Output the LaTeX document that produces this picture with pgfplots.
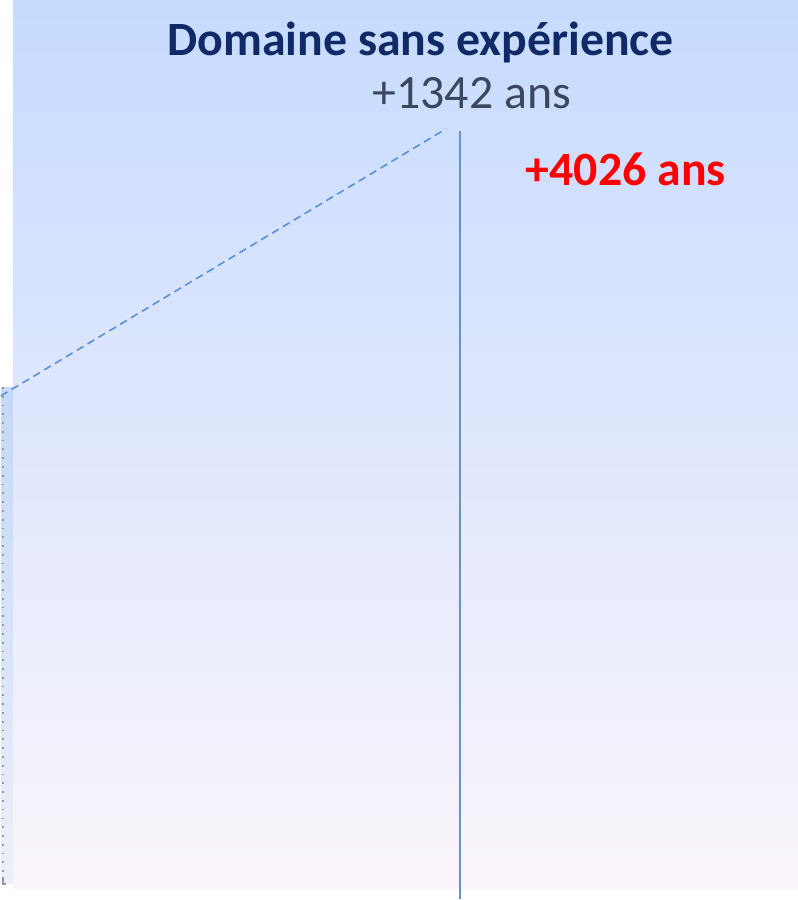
\documentclass[border=0pt]{standalone}
\usepackage{pgfplots}
\pgfplotsset{compat=1.18}
\usepackage{fontspec}
\setmainfont{Carlito}
\definecolor{bgtop}{HTML}{C6DBFF}
\definecolor{bgmid}{HTML}{DFEAFB}
\definecolor{bgbot}{HTML}{FBF5FB}
\definecolor{striptop}{HTML}{C4D8F8}
\definecolor{stripbot}{HTML}{EEF0F8}
\definecolor{navy}{HTML}{0F2A66}
\definecolor{grayt}{HTML}{3A475E}
\definecolor{dashc}{HTML}{5B8FD6}
\definecolor{vline}{HTML}{6A92C8}
\begin{document}
\begin{tikzpicture}
\begin{axis}[
  scale only axis, width=7.97cm, height=9cm,
  xmin=0, xmax=797, ymin=0, ymax=900,
  axis lines=none, clip=false,
]
% background
\addplot[draw=none, top color=bgtop, middle color=bgmid, bottom color=bgbot] coordinates {(12,10) (797,10) (797,899) (12,899)} \closedcycle;
\addplot[draw=none, top color=striptop, bottom color=stripbot] coordinates {(0,15) (12,15) (12,512) (0,512)} \closedcycle;
% dotted left line
\addplot[color=gray!80, line width=0.5pt, dotted] coordinates {(2,512) (2,15)};
\addplot[color=gray!80, line width=0.6pt] coordinates {(2,22) (2,15) (5,15)};
% dashed line
\addplot[color=dashc, line width=0.45pt, dash pattern=on 2.2pt off 1.4pt] coordinates {(0,503) (445,770)};
% vertical line
\addplot[color=vline, line width=0.6pt] coordinates {(459,768) (459,0)};
% texts
\node[font=\fontsize{13.6}{16}\selectfont\bfseries, text=navy, anchor=base] at (axis cs:420,843) {Domaine sans expérience};
\node[font=\fontsize{13.6}{16}\selectfont, text=grayt, anchor=base] at (axis cs:471,790) {+1342 ans};
\node[font=\fontsize{13.6}{16}\selectfont\bfseries, text=red, anchor=base] at (axis cs:625,713) {+4026 ans};
\end{axis}
\end{tikzpicture}
\end{document}
